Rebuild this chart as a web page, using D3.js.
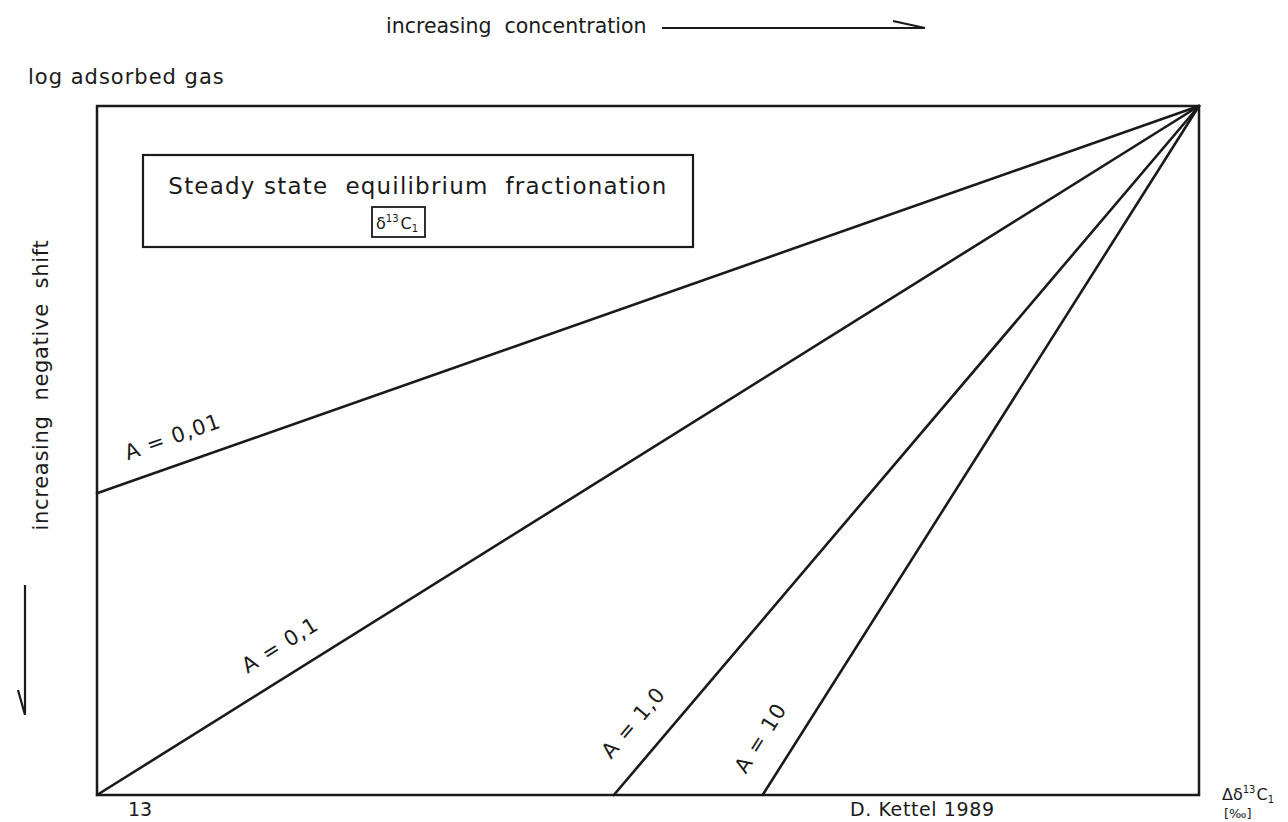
<!DOCTYPE html>
<html>
<head>
<meta charset="utf-8">
<script src="https://cdnjs.cloudflare.com/ajax/libs/d3/7.8.5/d3.min.js"></script>
<style>
  html, body { margin: 0; padding: 0; background: #fff; }
  svg { display: block; }
  text { font-family: "DejaVu Sans", sans-serif; fill: #1a1a1a; }
</style>
</head>
<body>
<svg id="chart" width="1288" height="822"></svg>
<script>
// ---- data ----
const seriesLabels = ["A = 0,01", "A = 0,1", "A = 1,0", "A = 10"];
const startX = [0, 0, 0.469, 0.604];   // relative concentration at line start
const startY = [0.438, 0, 0, 0];       // relative negative shift at line start
const endX = [1, 1, 1, 1];
const endY = [1, 1, 1, 1];
const xAxisTitle = "increasing  concentration";
const yAxisTitle = "increasing  negative  shift";
const topLeftLabel = "log adsorbed gas";
const insetTitle = "Steady state  equilibrium  fractionation";
const footLeft = "13";
const footRight = "D. Kettel 1989";

// ---- layout ----
const plot = { left: 97, top: 106, right: 1199, bottom: 795 };
const svg = d3.select("#chart");
const ink = "#1a1a1a";

const x = d3.scaleLinear().domain([0, 1]).range([plot.left, plot.right]);
const y = d3.scaleLinear().domain([0, 1]).range([plot.bottom, plot.top]);

// frame
svg.append("rect")
  .attr("x", plot.left).attr("y", plot.top)
  .attr("width", plot.right - plot.left).attr("height", plot.bottom - plot.top)
  .attr("fill", "none").attr("stroke", ink).attr("stroke-width", 2.5);

// lines
const lineData = seriesLabels.map((l, i) => ({
  label: l, x0: startX[i], y0: startY[i], x1: endX[i], y1: endY[i]
}));
svg.append("g").selectAll("line").data(lineData).join("line")
  .attr("x1", d => x(d.x0)).attr("y1", d => y(d.y0))
  .attr("x2", d => x(d.x1)).attr("y2", d => y(d.y1))
  .attr("stroke", ink).attr("stroke-width", 2.6).attr("stroke-linecap", "round");

// labels placed along each line: [distance along line, perpendicular offset]
const labelPlace = [[40, 21], [192, 23], [25, 25], [8, 25]];
svg.append("g").selectAll("text").data(lineData).join("text")
  .attr("transform", (d, i) => {
    const X0 = x(d.x0), Y0 = y(d.y0), X1 = x(d.x1), Y1 = y(d.y1);
    const L = Math.hypot(X1 - X0, Y1 - Y0);
    const ux = (X1 - X0) / L, uy = (Y1 - Y0) / L;
    const nx = uy, ny = -ux; // normal to the upper-left side
    const [a, p] = labelPlace[i];
    const px = X0 + ux * a + nx * p, py = Y0 + uy * a + ny * p;
    const ang = Math.atan2(uy, ux) * 180 / Math.PI;
    return `translate(${px},${py}) rotate(${ang})`;
  })
  .attr("font-size", 21)
  .attr("letter-spacing", 1)
  .style("white-space", "pre")
  .text(d => d.label);

// top title with arrow
svg.append("text").attr("x", 386).attr("y", 33).attr("font-size", 20.5)
  .style("white-space", "pre").text(xAxisTitle);
svg.append("path")
  .attr("d", "M662,28 L925,28 M893,21 L925,28")
  .attr("fill", "none").attr("stroke", ink).attr("stroke-width", 2.2);

// top-left label
svg.append("text").attr("x", 28).attr("y", 84).attr("font-size", 21)
  .attr("letter-spacing", 1).text(topLeftLabel);

// left rotated label with arrow
svg.append("text")
  .attr("transform", "translate(48,385) rotate(-90)")
  .attr("text-anchor", "middle").attr("font-size", 21)
  .attr("letter-spacing", 0.7)
  .style("white-space", "pre").text(yAxisTitle);
svg.append("path")
  .attr("d", "M25,585 L25,715 M18,690 L25,715")
  .attr("fill", "none").attr("stroke", ink).attr("stroke-width", 2.2);

// inset box
svg.append("rect").attr("x", 143).attr("y", 155).attr("width", 550).attr("height", 92)
  .attr("fill", "none").attr("stroke", ink).attr("stroke-width", 2.2);
svg.append("text").attr("x", 418).attr("y", 194).attr("text-anchor", "middle")
  .attr("font-size", 23).attr("letter-spacing", 1.2)
  .style("white-space", "pre").text(insetTitle);
svg.append("rect").attr("x", 372).attr("y", 207).attr("width", 53).attr("height", 30)
  .attr("fill", "none").attr("stroke", ink).attr("stroke-width", 1.8);
const sub = svg.append("text").attr("x", 376).attr("y", 229).attr("font-size", 16);
sub.append("tspan").text("δ");
sub.append("tspan").attr("font-size", 10).attr("dy", -7).text("13");
sub.append("tspan").attr("dx", 2).attr("dy", 7).text("C");
sub.append("tspan").attr("font-size", 10).attr("dy", 3).text("1");

// unit label at the right
const unit = svg.append("text").attr("x", 1222).attr("y", 800).attr("font-size", 16);
unit.append("tspan").text("Δδ");
unit.append("tspan").attr("font-size", 10).attr("dy", -7).text("13");
unit.append("tspan").attr("dx", 1).attr("dy", 7).text("C");
unit.append("tspan").attr("font-size", 10).attr("dy", 3).text("1");
svg.append("text").attr("x", 1224).attr("y", 818).attr("font-size", 13).text("[‰]");

// footer texts (at the page edge, as in the reference)
svg.append("text").attr("x", 128).attr("y", 816).attr("font-size", 19).text(footLeft);
svg.append("text").attr("x", 850).attr("y", 816).attr("font-size", 19)
  .attr("letter-spacing", 0.6).text(footRight);
</script>
</body>
</html>
